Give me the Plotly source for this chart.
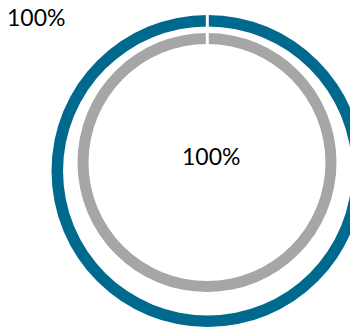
import plotly.graph_objects as go

# Data
series_names = ["Outer", "Inner"]
outer_value = [100]
inner_value = [100]
outer_label = "100%"
inner_label = "100%"

W, H = 358, 329
OFF = 8  # page body margin
BLUE = "#006A8E"
GRAY = "#A6A6A6"

def dom_x(a, b):
    return [(a - OFF) / W, (b - OFF) / W]

def dom_y(top, bottom):
    return [(H - (bottom - OFF)) / H, (H - (top - OFF)) / H]

def px(x):
    return (x - OFF) / W

def py(y):
    return (H - (y - OFF)) / H

fig = go.Figure()
fig.add_trace(go.Pie(
    values=outer_value, labels=[series_names[0]],
    hole=0.926, sort=False, direction="clockwise", rotation=0,
    marker=dict(colors=[BLUE], line=dict(color="white", width=0)),
    textinfo="none", hoverinfo="none", showlegend=False,
    domain=dict(x=dom_x(51.5, 363.5), y=dom_y(15, 327)),
))
fig.add_trace(go.Pie(
    values=inner_value, labels=[series_names[1]],
    hole=0.915, sort=False, direction="clockwise", rotation=0,
    marker=dict(colors=[GRAY], line=dict(color="white", width=0)),
    textinfo="none", hoverinfo="none", showlegend=False,
    domain=dict(x=dom_x(77.5, 336.5), y=dom_y(33, 292)),
))

# start-of-slice gap at 12 o'clock
fig.add_shape(type="line", xref="paper", yref="paper",
              x0=px(207.3), x1=px(207.3), y0=py(50), y1=py(8),
              line=dict(color="white", width=3))

fig.add_annotation(text=outer_label, xref="paper", yref="paper",
                   x=px(36), y=py(17), showarrow=False,
                   xanchor="center", yanchor="middle",
                   font=dict(family="Lato", size=23, color="#000000"))
fig.add_annotation(text=inner_label, xref="paper", yref="paper",
                   x=px(211), y=py(156), showarrow=False,
                   xanchor="center", yanchor="middle",
                   font=dict(family="Lato", size=23, color="#000000"))

fig.update_layout(width=W, height=H, autosize=False,
                  margin=dict(l=0, r=0, t=0, b=0),
                  paper_bgcolor="white", plot_bgcolor="white")

fig.write_html("out.html")
